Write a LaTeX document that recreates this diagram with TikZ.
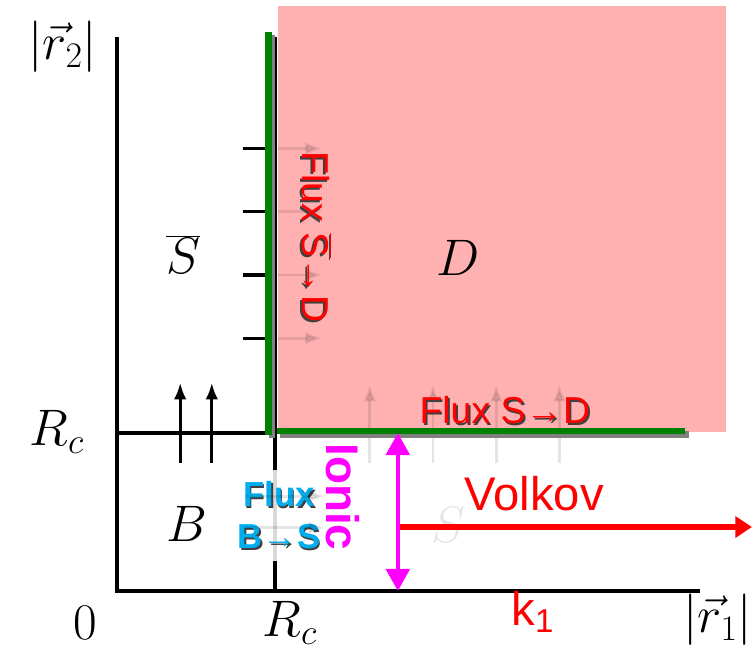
\RequirePackage{fix-cm}
\documentclass[tikz,border=0pt]{standalone}
\usepackage{fontspec}
\usetikzlibrary{arrows.meta}
\newfontfamily\lsans{Liberation Sans}
\definecolor{dpink}{RGB}{255,176,176}
\definecolor{fgreen}{RGB}{0,128,0}
\definecolor{fcyan}{RGB}{0,174,239}
\definecolor{fmag}{RGB}{255,0,255}
\newcommand{\shtxt}[2]{\rlap{\kern1.2pt\raisebox{-1.2pt}{\color{black!75}#2}}\textcolor{#1}{#2}}

\begin{document}
\begin{tikzpicture}[
    ax/.style={line width=2.2pt},
    upar/.style={line width=2pt,-{Latex[length=12pt,width=9pt]}},
    ghost/.style={black,opacity=0.1},
    wall/.style={fgreen,line width=4.8pt},
    wallsh/.style={black!50,line width=4.8pt},
    mlab/.style={font=\fontsize{37}{44}\selectfont},
    ftxt/.style={font=\lsans\fontsize{27}{32}\selectfont}]
  \useasboundingbox (-2.962,-1.519) rectangle (16.076,14.962);
  % axes and the R_c lines
  \coordinate (O) at (0,0);
  \coordinate (xend) at (14.76,0);
  \coordinate (yend) at (0,14.03);
  \coordinate (rcy) at (0,4);
  \coordinate (rcx) at (4,0);
  \draw[ax] (yend) -- (O) -- (xend);
  \draw[ax] (rcy) -- (4,4);
  \draw[ax] (rcx) -- (4,14.03);
  % the region D
  \fill[dpink] (4.08,4.03) rectangle (15.42,14.81);
  % faint flux arrows
  \foreach \x in {6.4,8.0,9.6,11.2}
    \draw[upar,ghost] (\x,3.24) -- (\x,5.22);
  \foreach \y in {6.4,8.0,9.6,11.2}
    \draw[upar,ghost] (4.08,\y) -- (5.19,\y);
  % the green walls
  \draw[wallsh] (3.92,14.08) -- (3.92,3.88);
  \draw[wallsh] (4.12,3.97) -- (14.48,3.97);
  \draw[wall] (3.84,14.15) -- (3.84,3.95);
  \draw[wall] (4.06,4.05) -- (14.38,4.05);
  % ticks and arrows on the left
  \foreach \y in {6.4,8.0,9.6,11.2}
    \draw[ax] (3.19,\y) -- (3.75,\y);
  \foreach \x in {1.6,2.4}
    \draw[upar] (\x,3.24) -- (\x,5.27);
  % labels
  \node[mlab] (r2lab) at (-1.37,13.77) {$|\vec{r}_2|$};
  \node[mlab] (rcylab) at (-1.52,4.03) {$R_c$};
  \node[mlab] (zero) at (-0.81,-0.81) {$0$};
  \node[mlab] (rcxlab) at (4.38,-0.81) {$R_c$};
  \node[mlab] (r1lab) at (15.21,-0.73) {$|\vec{r}_1|$};
  \node[mlab] (sbar) at (1.67,8.51) {$\overline{S}$};
  \node[mlab] (dreg) at (8.63,8.43) {$D$};
  \node[mlab] (breg) at (1.77,1.70) {$B$};
  \node[mlab,ghost] (sreg) at (8.38,1.67) {$S$};
  \node[ftxt,font=\lsans\fontsize{34}{40}\selectfont,red] (k1) at (10.53,-0.53) {k\textsubscript{1}};
  \node[ftxt] (fluxsd) at (9.82,4.56) {\shtxt{red}{Flux S→D}};
  \node[ftxt,rotate=-90] (fluxsbd) at (5.04,8.96) {\shtxt{red}{Flux $\overline{\mbox{S}}$→D}};
  \node[font=\lsans\bfseries\fontsize{25}{30}\selectfont,align=center,
        fill=white,fill opacity=0.85,text opacity=1,inner ysep=8pt,inner xsep=2pt]
    (fluxbs) at (4.10,1.90) {\shtxt{fcyan}{Flux}\\\shtxt{fcyan}{B→S}};
  \foreach \y in {1.6,2.4}
    \draw[upar,ghost] (3.24,\y) -- (5.27,\y);
  \node[font=\lsans\bfseries\fontsize{33}{40}\selectfont,fmag,rotate=-90]
    (ionic) at (5.72,2.38) {Ionic};
  \node[font=\lsans\fontsize{34}{40}\selectfont,red] (volkov) at (10.56,2.46) {Volkov};
  % ionic and Volkov arrows
  \coordinate (itop) at (7.11,4.0);
  \coordinate (ibot) at (7.11,0);
  \coordinate (vstart) at (7.11,1.62);
  \coordinate (vend) at (16.076,1.62);
  \draw[red,line width=4.6pt,-{Triangle[length=12pt,width=15pt]}] (vstart) -- (vend);
  \draw[fmag,line width=3pt,{Triangle[length=16pt,width=17pt]}-{Triangle[length=16pt,width=17pt]}] (itop) -- (ibot);
\end{tikzpicture}
\end{document}
